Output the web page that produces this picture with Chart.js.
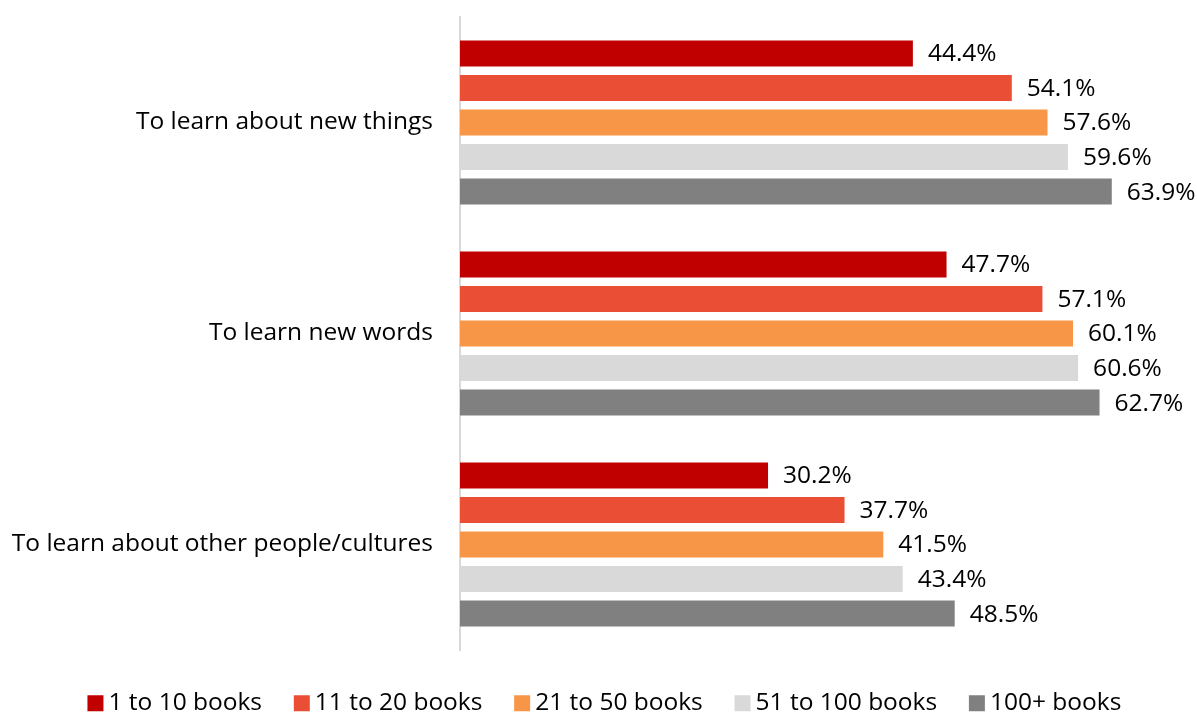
<!DOCTYPE html>
<html>
<head>
<meta charset="utf-8">
<script src="https://cdn.jsdelivr.net/npm/chart.js@4/dist/chart.umd.min.js"></script>
<style>
    html, body { margin: 0; padding: 0; background: #ffffff; }
    #wrap { width: 1197px; height: 713px; }
</style>
</head>
<body>
<div id="wrap"><canvas id="reasons"></canvas></div>
<script>
const categories = [
    "To learn about new things",
    "To learn new words",
    "To learn about other people/cultures",
];
const seriesNames = ["1 to 10 books", "11 to 20 books", "21 to 50 books", "51 to 100 books", "100+ books"];
const books1to10 = [44.4, 47.7, 30.2];
const books11to20 = [54.1, 57.1, 37.7];
const books21to50 = [57.6, 60.1, 41.5];
const books51to100 = [59.6, 60.6, 43.4];
const books100plus = [63.9, 62.7, 48.5];
const seriesColors = ["#C00000", "#EA4F35", "#F79646", "#D9D9D9", "#808080"];

const FONT = "'Open Sans'";
const FONT_SIZE = 24.5;

// draws "44.4%" next to the end of each bar
const valueLabels = {
    id: "valueLabels",
    afterDatasetsDraw(chart) {
        const ctx = chart.ctx;
        ctx.save();
        ctx.font = `${FONT_SIZE}px ${FONT}`;
        ctx.fillStyle = "#000000";
        ctx.textAlign = "left";
        ctx.textBaseline = "middle";
        chart.data.datasets.forEach((ds, i) => {
            chart.getDatasetMeta(i).data.forEach((bar, j) => {
                ctx.fillText(ds.data[j].toFixed(1) + "%", bar.x + 15, bar.y + 1);
            });
        });
        ctx.restore();
    },
};

// fixed legend height so the plot ends where the original does,
// and the row nudged a bit to the right like in the original
const legendFit = {
    id: "legendFit",
    beforeInit(chart) {
        const fit = chart.legend.fit;
        chart.legend.fit = function () {
            fit.call(this);
            this.height = 61;
            if (this.lineWidths && this.lineWidths.length) this.lineWidths[0] -= 32;
        };
    },
};

// thin box + thick stroke of the same colour = 16px square sitting close to its text
const BOX_CORE = 1.5;
const BOX_STROKE = 14.5;

const allSeries = [books1to10, books11to20, books21to50, books51to100, books100plus];

new Chart(document.getElementById("reasons"), {
    type: "bar",
    data: {
        labels: categories,
        datasets: allSeries.map((values, i) => ({
            label: seriesNames[i],
            data: values,
            backgroundColor: seriesColors[i],
            borderWidth: 0,
            categoryPercentage: 0.818,
            barPercentage: 0.754,
        })),
    },
    options: {
        indexAxis: "y",
        responsive: true,
        maintainAspectRatio: false,
        animation: false,
        layout: { padding: { top: 17, right: 23, bottom: 0, left: 10 } },
        plugins: {
            tooltip: { enabled: false },
            legend: {
                position: "bottom",
                labels: {
                    boxWidth: BOX_CORE,
                    boxHeight: BOX_CORE,
                    padding: 39,
                    color: "#000000",
                    font: { family: FONT, size: FONT_SIZE },
                    generateLabels(chart) {
                        return Chart.defaults.plugins.legend.labels.generateLabels(chart).map((item) => ({
                            ...item,
                            strokeStyle: item.fillStyle,
                            lineWidth: BOX_STROKE,
                        }));
                    },
                },
            },
        },
        scales: {
            x: {
                min: 0,
                max: 70,
                ticks: { display: false },
                grid: { display: false },
                border: { display: false },
                afterFit(scale) {
                    scale.height = 2;
                    scale.paddingLeft = 0;
                    scale.paddingRight = 0;
                },
            },
            y: {
                grid: { display: false, drawTicks: false },
                border: { display: true, color: "#D9D9D9", width: 2 },
                ticks: {
                    padding: 27,
                    color: "#000000",
                    font: { family: FONT, size: FONT_SIZE },
                },
                afterFit(scale) {
                    scale.width = 450;
                    scale.paddingTop = 0;
                    scale.paddingBottom = 0;
                },
            },
        },
    },
    plugins: [valueLabels, legendFit],
});
</script>
</body>
</html>
